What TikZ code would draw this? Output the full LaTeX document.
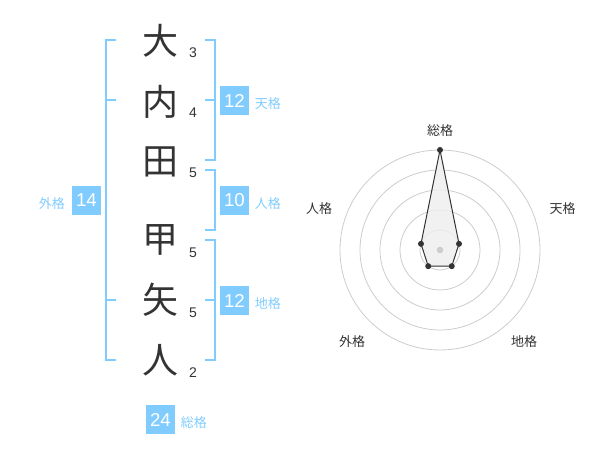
\documentclass[tikz,border=0pt]{standalone}
\usepackage{fontspec}
\setmainfont{Liberation Sans}
\newfontfamily\jpfont{Noto Sans CJK JP}
\usetikzlibrary{positioning,calc}
\definecolor{kakuBlue}{HTML}{80CCFF}
\definecolor{kakuText}{HTML}{333333}
\definecolor{ringGray}{HTML}{CCCCCC}
\definecolor{areaFill}{HTML}{EEEEEE}

\begin{document}
\begin{tikzpicture}[x=0.75pt, y=-0.75pt,
          kanji/.style={font=\jpfont\fontsize{27}{27}\selectfont, text=kakuText, inner sep=0pt},
          strokes/.style={font=\fontsize{10.5}{11}\selectfont, text=kakuText, inner sep=0pt},
          boxKaku/.style={rectangle, fill=kakuBlue, text=white, minimum size=21.75pt, inner sep=0pt, font=\fontsize{14}{14}\selectfont},
          kakuName/.style={font=\jpfont\fontsize{9.75}{10}\selectfont, text=kakuBlue, inner sep=0pt},
          bracket/.style={draw=kakuBlue, line width=1.5pt},
          ring/.style={draw=ringGray, line width=0.6pt},
          dot/.style={circle, fill=kakuText, inner sep=0pt, minimum size=4.5pt},
          axisName/.style={font=\jpfont\fontsize{9.75}{10}\selectfont, text=kakuText, inner sep=0pt}
        ]
          \useasboundingbox (0,0) rectangle (600,470);
          \node[kanji] (k1) at (160,41) {大};
          \node[kanji] (k2) at (160,102) {内};
          \node[kanji] (k3) at (160,162) {田};
          \node[kanji] (k4) at (160,240) {甲};
          \node[kanji] (k5) at (160,300) {矢};
          \node[kanji] (k6) at (160,360) {人};
          \node[strokes] (n1) at (193,52.5) {3};
          \node[strokes] (n2) at (193,112.5) {4};
          \node[strokes] (n3) at (193,172.5) {5};
          \node[strokes] (n4) at (193,252.5) {5};
          \node[strokes] (n5) at (193,312.5) {5};
          \node[strokes] (n6) at (193,372.5) {2};

          \draw[bracket] (116,40) -- (106,40) -- (106,360) -- (116,360);
          \draw[bracket] (106,100) -- (116,100);
          \draw[bracket] (106,300) -- (116,300);
          \draw[bracket] (205,40) -- (215,40) -- (215,160) -- (205,160);
          \draw[bracket] (205,100) -- (215,100);
          \draw[bracket] (205,170) -- (215,170) -- (215,230) -- (205,230);
          \draw[bracket] (205,240) -- (215,240) -- (215,360) -- (205,360);
          \draw[bracket] (205,300) -- (215,300);

          \node[boxKaku] (ten) at (234.5,100.5) {12};
          \node[boxKaku] (jin) at (234.5,200.5) {10};
          \node[boxKaku] (chi) at (234.5,300.5) {12};
          \node[boxKaku] (gai) at (86.5,200.5) {14};
          \node[boxKaku] (sou) at (160.5,419.5) {24};
          \node[kakuName, right=4pt of ten, yshift=-2pt] (tenName) {天格};
          \node[kakuName, right=4pt of jin, yshift=-2pt] (jinName) {人格};
          \node[kakuName, right=4pt of chi, yshift=-2pt] (chiName) {地格};
          \node[kakuName, left=5pt of gai, yshift=-2pt] (gaiName) {外格};
          \node[kakuName, right=4pt of sou, yshift=-2pt] (souName) {総格};

          \begin{scope}[shift={(440,250)}, yscale=-1]
            \draw[ring] (0,0) circle[radius=20];
            \draw[ring] (0,0) circle[radius=40];
            \draw[ring] (0,0) circle[radius=60];
            \draw[ring] (0,0) circle[radius=80];
            \draw[ring] (0,0) circle[radius=100];
            \coordinate (pSou) at (90:100);
            \coordinate (pTen) at (18:20);
            \coordinate (pChi) at (-54:20);
            \coordinate (pGai) at (-126:20);
            \coordinate (pJin) at (162:20);
            \draw[fill=areaFill, fill opacity=0.85, draw=kakuText, line width=0.75pt] (pSou) -- (pTen) -- (pChi) -- (pGai) -- (pJin) -- cycle;
            \fill[ringGray] (0,0) circle[radius=3.3];
            \foreach \p in {pSou,pTen,pChi,pGai,pJin}
              \node[dot] at (\p) {};
          \end{scope}
          \node[axisName] (aSou) at (440,130.5) {総格};
          \node[axisName] (aTen) at (562.5,208.5) {天格};
          \node[axisName] (aChi) at (524,341.5) {地格};
          \node[axisName] (aGai) at (352,341.5) {外格};
          \node[axisName] (aJin) at (319,208.5) {人格};
        \end{tikzpicture}
\end{document}
